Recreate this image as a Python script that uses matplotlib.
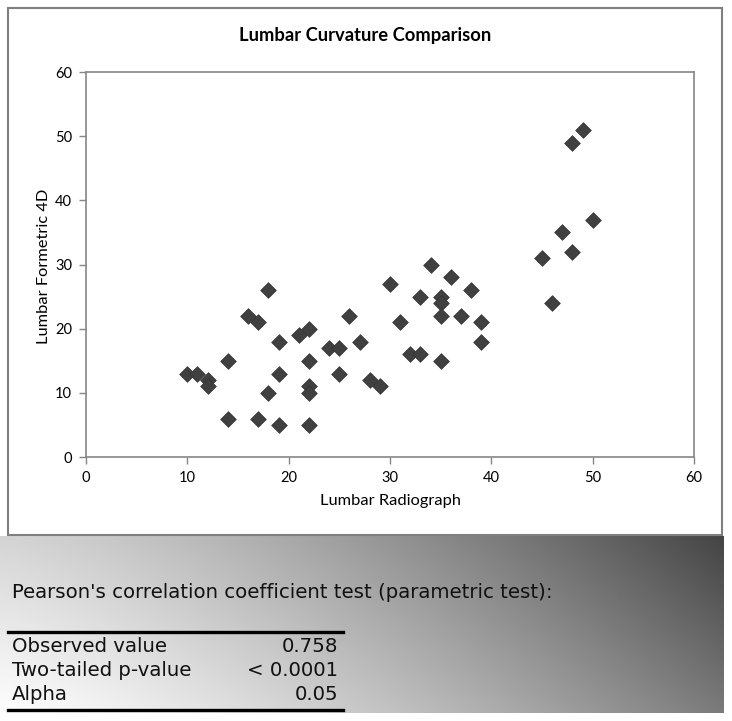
import numpy as np
import matplotlib
matplotlib.use('Agg')
import matplotlib.pyplot as plt
from matplotlib.patches import Rectangle

# data
radiograph = [10, 11, 12, 12, 14, 14, 16, 17, 17, 18, 18, 19, 19, 19, 21, 22, 22, 22, 22, 22,
              24, 25, 25, 26, 27, 28, 29, 30, 31, 32, 33, 33, 34, 35, 35, 35, 35, 36, 37, 38,
              39, 39, 45, 46, 47, 48, 48, 49, 50]
formetric = [13, 13, 12, 11, 15, 6, 22, 21, 6, 26, 10, 18, 13, 5, 19, 20, 15, 11, 10, 5,
             17, 17, 13, 22, 18, 12, 11, 27, 21, 16, 16, 25, 30, 25, 24, 22, 15, 28, 22, 26,
             21, 18, 31, 24, 35, 32, 49, 51, 37]
ticks = [0, 10, 20, 30, 40, 50, 60]

stat_names = ['Observed value', 'Two-tailed p-value', 'Alpha']
stat_values = ['0.758', '< 0.0001', '0.05']

W, H = 732, 721
fig = plt.figure(figsize=(W / 100, H / 100), dpi=100)


def fx(x):
    return x / W


def fy(y):
    return 1 - y / H


# gradient panel at the bottom
bg = fig.add_axes([0, fy(713), fx(724), fy(536) - fy(713)])
gx = np.linspace(0, 1, 300)
gy = np.linspace(0, 1, 100)
GX, GY = np.meshgrid(gx, gy)   # GY = 0 at top
top = 0.83 + (0.27 - 0.83) * GX ** 1.3
bot = 0.99 + (0.48 - 0.99) * GX ** 1.3
L = top + (bot - top) * GY
bg.imshow(L, cmap='gray', vmin=0, vmax=1, aspect='auto', extent=[0, 1, 1, 0])
bg.set_xlim(0, 1)
bg.set_ylim(1, 0)
bg.axis('off')

# chart frame
fig.patches.append(Rectangle((fx(8), fy(535)), fx(722) - fx(8), fy(8) - fy(535),
                             transform=fig.transFigure, facecolor='white',
                             edgecolor='#7f7f7f', linewidth=1.5, zorder=1))

font = 'Lato'
ax = fig.add_axes([fx(86), fy(457), fx(694) - fx(86), fy(72) - fy(457)], zorder=2)
ax.scatter(radiograph, formetric, marker='D', s=64, color='#404040',
           edgecolor='#333333', linewidth=0.5, zorder=3)
ax.set_xlim(0, 60)
ax.set_ylim(0, 60)
ax.set_xticks(ticks)
ax.set_yticks(ticks)
ax.set_xticklabels([str(t) for t in ticks], fontsize=10.5, family=font)
ax.set_yticklabels([str(t) for t in ticks], fontsize=10.5, family=font)
ax.tick_params(direction='out', length=5, width=1, color='#868686', pad=5)
for s in ax.spines.values():
    s.set_color('#868686')
    s.set_linewidth(1.2)

fig.text(fx(365), fy(36), 'Lumbar Curvature Comparison', ha='center', va='center',
         fontsize=13.2, fontweight='bold', family=font)
fig.text(fx(390), fy(501), 'Lumbar Radiograph', ha='center', va='center',
         fontsize=11.8, family=font)
fig.text(fx(44), fy(266), 'Lumbar Formetric 4D', ha='center', va='center',
         rotation=90, fontsize=11.8, family=font)

# statistics block
fig.text(fx(12), fy(593), "Pearson's correlation coefficient test (parametric test):",
         ha='left', va='center', fontsize=14.2, family='DejaVu Sans', color='#111111')
fig.add_artist(plt.Line2D([fx(8), fx(343)], [fy(632), fy(632)], color='black', linewidth=2.4))
fig.add_artist(plt.Line2D([fx(8), fx(343)], [fy(710), fy(710)], color='black', linewidth=2.4))
for i, (name, val) in enumerate(zip(stat_names, stat_values)):
    yy = fy(647 + 24 * i)
    fig.text(fx(12), yy, name, ha='left', va='center', fontsize=14.2,
             family='DejaVu Sans', color='#111111')
    fig.text(fx(338), yy, val, ha='right', va='center', fontsize=14.2,
             family='DejaVu Sans', color='#111111')

fig.savefig('out.png', dpi=100)
